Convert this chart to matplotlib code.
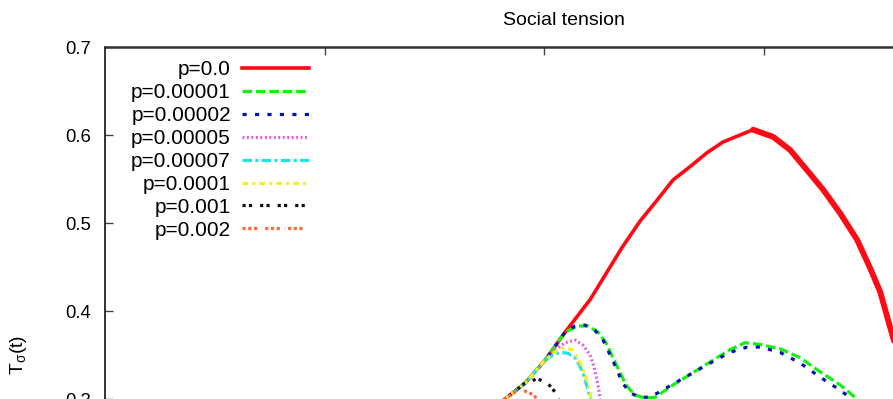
import matplotlib
matplotlib.use("Agg")
import matplotlib.pyplot as plt
from matplotlib.ticker import FormatStrFormatter

plt.rcParams['font.family'] = ['Liberation Sans', 'DejaVu Sans']
plt.rcParams['mathtext.fontset'] = 'custom'
plt.rcParams['mathtext.rm'] = 'Liberation Sans'
plt.rcParams['mathtext.it'] = 'Liberation Sans'

# social tension T_sigma(t) for each rewiring probability p
labels = ["p=0.0", "p=0.00001", "p=0.00002", "p=0.00005",
          "p=0.00007", "p=0.0001", "p=0.001", "p=0.002"]

t_p0 = [300, 1663, 1822, 1913, 2005, 2096, 2210, 2355, 2437, 2515, 2588,
        2665, 2743, 2815, 2893, 2952, 3043, 3121, 3198, 3271, 3349, 3426,
        3485, 3531, 3576, 3645, 3713]
T_p0 = [0.0, 0.265, 0.300, 0.318, 0.344, 0.376, 0.413, 0.472, 0.502, 0.526,
        0.549, 0.564, 0.580, 0.592, 0.600, 0.606, 0.598, 0.583, 0.560, 0.538,
        0.511, 0.481, 0.449, 0.422, 0.382, 0.322, 0.265]

t_p1 = [300, 1663, 1822, 1913, 2005, 2096, 2155, 2200, 2246, 2282, 2314,
        2346, 2374, 2410, 2460, 2506, 2588, 2743, 2847, 2916, 2984, 3075,
        3166, 3257, 3349, 3426, 3554]
T_p1 = [0.0, 0.265, 0.300, 0.318, 0.344, 0.376, 0.383, 0.383, 0.376, 0.364,
        0.347, 0.330, 0.316, 0.305, 0.301, 0.302, 0.316, 0.340, 0.356, 0.364,
        0.362, 0.357, 0.347, 0.331, 0.316, 0.300, 0.270]

t_p2 = [300, 1663, 1822, 1913, 2005, 2096, 2141, 2187, 2232, 2269, 2301,
        2333, 2355, 2392, 2437, 2483, 2588, 2743, 2847, 2925, 2984, 3075,
        3166, 3257, 3349, 3403, 3531]
T_p2 = [0.0, 0.265, 0.300, 0.318, 0.344, 0.376, 0.383, 0.384, 0.378, 0.367,
        0.350, 0.333, 0.319, 0.307, 0.302, 0.302, 0.317, 0.339, 0.353, 0.359,
        0.359, 0.353, 0.341, 0.325, 0.310, 0.300, 0.270]

t_p5 = [300, 1663, 1822, 1913, 2005, 2050, 2096, 2141, 2178, 2210, 2228,
        2241, 2251, 2260, 2269]
T_p5 = [0.0, 0.265, 0.300, 0.318, 0.344, 0.356, 0.364, 0.367, 0.361, 0.350,
        0.336, 0.322, 0.308, 0.293, 0.265]

t_p7 = [300, 1663, 1822, 1913, 2005, 2041, 2073, 2109, 2141, 2164, 2182,
        2196, 2210, 2223]
T_p7 = [0.0, 0.265, 0.300, 0.318, 0.344, 0.350, 0.353, 0.352, 0.347, 0.337,
        0.326, 0.314, 0.300, 0.265]

t_p10 = [300, 1663, 1822, 1913, 2005, 2041, 2082, 2128, 2160, 2182, 2201,
         2214, 2228]
T_p10 = [0.0, 0.265, 0.300, 0.318, 0.344, 0.352, 0.358, 0.356, 0.344, 0.331,
         0.316, 0.300, 0.265]

t_p100 = [300, 1663, 1822, 1913, 1936, 1968, 2000, 2027, 2050, 2064, 2087]
T_p100 = [0.0, 0.265, 0.300, 0.318, 0.320, 0.323, 0.320, 0.315, 0.308, 0.300,
          0.265]

t_p200 = [300, 1663, 1822, 1868, 1913, 1950, 1968, 1982]
T_p200 = [0.0, 0.265, 0.300, 0.308, 0.309, 0.305, 0.300, 0.265]

fig = plt.figure(figsize=(8.93, 3.99), dpi=100)
ax = fig.add_axes([0.1176, -0.6617, 1.0280, 1.5439])

lw = 2.3
ax.plot(t_p0, T_p0, color='#ff0a14', lw=2.6, label=labels[0])
# the p=0 run gets noisy past its maximum
ax.plot(t_p0[15:], T_p0[15:], color='#ff0a14', lw=4.2, solid_capstyle='round')
ax.plot(t_p1, T_p1, color='#14f014', lw=lw, dashes=(3.0, 1.2), label=labels[1])
ax.plot(t_p2, T_p2, color='#0a12b0', lw=lw, dashes=(1.3, 2.6), label=labels[2])
ax.plot(t_p5, T_p5, color='#e25ce2', lw=lw, dashes=(0.6, 0.8), label=labels[3])
ax.plot(t_p7, T_p7, color='#26e0ea', lw=lw, dashes=(3.0, 1.0, 1.0, 1.0), label=labels[4])
ax.plot(t_p10, T_p10, color='#f4f020', lw=lw, dashes=(1.8, 1.3, 0.9, 1.3), label=labels[5])
ax.plot(t_p100, T_p100, color='#111111', lw=lw, dashes=(1.0, 1.0, 1.0, 2.5), label=labels[6])
ax.plot(t_p200, T_p200, color='#ff6a3a', lw=lw,
        dashes=(1.0, 0.8, 1.0, 0.8, 1.0, 2.5), label=labels[7])

ax.set_xlim(0, 4182)
ax.set_ylim(0, 0.7)
ax.set_xticks([1000, 2000, 3000, 4000])
ax.set_yticks([0.0, 0.1, 0.2, 0.3, 0.4, 0.5, 0.6, 0.7])
ax.yaxis.set_major_formatter(FormatStrFormatter('%.1f'))
ax.tick_params(direction='in', length=6, width=1.0, top=True, right=True,
               labelsize=13.3, pad=10, color='#444444')
ax.tick_params(axis='x', labelbottom=False)
for side in ['top', 'bottom', 'right']:
    ax.spines[side].set_linewidth(1.8)
    ax.spines[side].set_color('#333333')
ax.spines['left'].set_linewidth(1.2)
ax.spines['left'].set_color('#111111')

ax.set_title('Social tension', fontsize=14, pad=16)
ax.set_ylabel(r'T$_\sigma$(t)', fontsize=14, labelpad=26)

leg = ax.legend(loc='upper right', bbox_to_anchor=(309 / 893, 1 - 60 / 399),
                bbox_transform=fig.transFigure, frameon=False, markerfirst=False,
                fontsize=15, handlelength=3.2, handletextpad=0.55,
                labelspacing=0.19, borderpad=0, borderaxespad=0)

fig.savefig('out.png', dpi=100)
